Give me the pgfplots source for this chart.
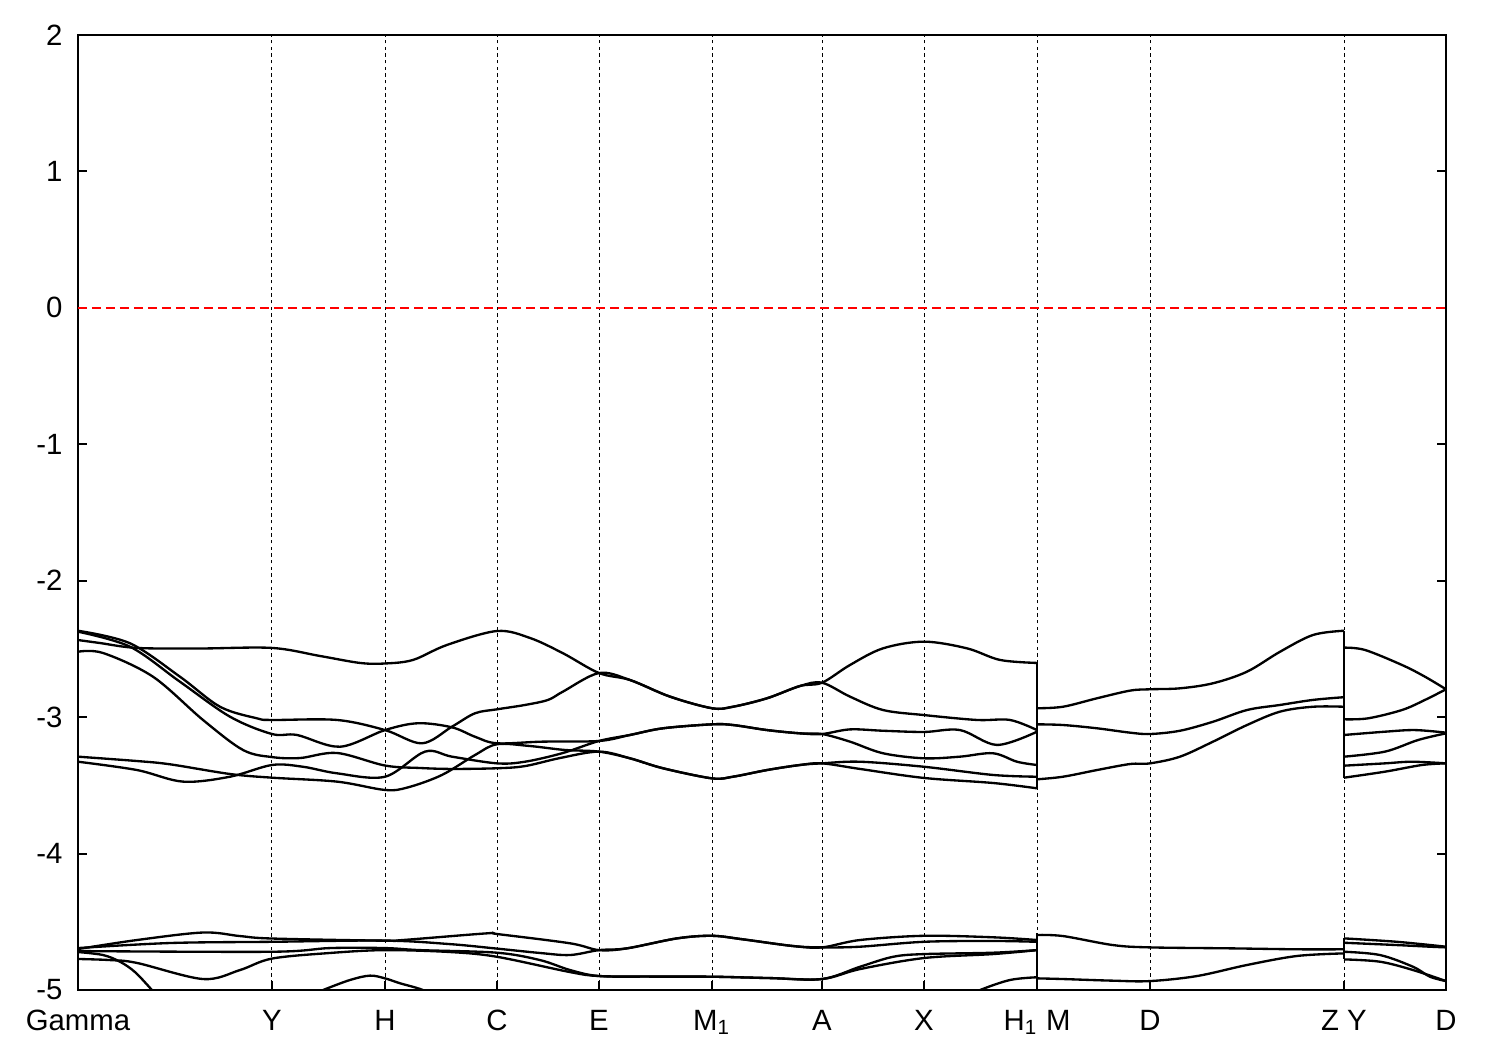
\documentclass[border=0pt]{standalone}
\usepackage{fontspec}
\setmainfont{Liberation Sans}
\usepackage{pgfplots}
\pgfplotsset{compat=1.18}
\begin{document}
\fontsize{8.8}{10}\selectfont
\begin{tikzpicture}
\begin{axis}[
  scale only axis, width=410.4pt, height=286.5pt,
  xmin=0, xmax=1368, ymin=-5, ymax=2,
  xtick={0,194,307,419,521,634,744,846,959,1072,1266,1368},
  xticklabels={Gamma,Y,H,C,E,M\textsubscript{1},A,X,H\textsubscript{1} M,D,Z Y,D},
  ytick={-5,-4,-3,-2,-1,0,1,2},
  yticklabels={-5,-4,-3,-2,-1,0,1,2},
  xtick pos=lower, ytick pos=both, tick align=inside,
  major tick length=2.7pt,
  axis line style={line width=0.6pt},
  every tick/.style={black, line width=0.6pt},
  xmajorgrids, grid style={black, line width=0.3pt, dash pattern=on 1pt off 1pt},
  tick label style={font=\fontsize{8.8}{10}\selectfont},
  xticklabel style={yshift=-3pt},
  yticklabel style={xshift=-1.5pt},
  band/.style={black, line width=0.7pt, smooth, tension=0.55},
  jump/.style={black, line width=0.7pt},
]
% ---------- upper group, Gamma -> H1 ----------
\addplot[band] coordinates {(0,-2.435) (22,-2.457) (59,-2.493) (122,-2.497) (194,-2.493) (242,-2.552) (282,-2.603) (307,-2.607) (335,-2.581) (369,-2.471) (419,-2.369) (452,-2.420) (485,-2.532) (521,-2.677) (552,-2.728) (592,-2.850) (634,-2.935) (655,-2.924) (689,-2.862) (722,-2.772) (744,-2.748) (772,-2.618) (805,-2.496) (846,-2.447) (889,-2.496) (922,-2.581) (959,-2.603)};
\addplot[band] coordinates {(0,-2.367) (52,-2.459) (102,-2.704) (142,-2.924) (179,-3.009) (194,-3.021) (259,-3.021) (307,-3.095) (344,-3.192) (374,-3.070) (397,-2.972) (419,-2.943) (447,-2.911) (470,-2.874) (485,-2.813) (521,-2.677) (552,-2.728) (592,-2.850) (634,-2.935) (655,-2.924) (689,-2.862) (722,-2.772) (744,-2.748) (772,-2.850) (805,-2.948) (846,-2.985) (899,-3.021) (932,-3.021) (959,-3.095)};
\addplot[band] coordinates {(0,-2.374) (52,-2.484) (102,-2.741) (152,-2.997) (194,-3.124) (219,-3.131) (262,-3.217) (307,-3.095) (340,-3.045) (374,-3.075) (397,-3.144) (419,-3.192) (464,-3.180) (521,-3.175) (552,-3.131) (585,-3.082) (634,-3.053) (655,-3.058) (689,-3.095) (722,-3.119) (744,-3.124) (772,-3.090) (805,-3.100) (846,-3.109) (882,-3.095) (919,-3.204) (959,-3.107)};
\addplot[band] coordinates {(0,-2.521) (25,-2.530) (75,-2.704) (125,-3.021) (165,-3.241) (194,-3.293) (222,-3.300) (259,-3.263) (307,-3.355) (342,-3.373) (374,-3.380) (419,-3.375) (447,-3.359) (482,-3.300) (521,-3.253) (552,-3.302) (585,-3.375) (634,-3.449) (655,-3.437) (689,-3.388) (722,-3.351) (744,-3.339) (782,-3.380) (846,-3.446) (915,-3.483) (959,-3.522)};
\addplot[band] coordinates {(0,-3.290) (59,-3.322) (92,-3.346) (152,-3.417) (194,-3.444) (259,-3.473) (307,-3.534) (330,-3.515) (364,-3.424) (397,-3.278) (419,-3.199) (452,-3.212) (487,-3.241) (521,-3.253) (552,-3.302) (585,-3.375) (634,-3.449) (655,-3.437) (689,-3.388) (722,-3.351) (744,-3.339) (782,-3.327) (846,-3.364) (915,-3.424) (959,-3.437)};
\addplot[band] coordinates {(0,-3.327) (59,-3.388) (105,-3.473) (152,-3.437) (194,-3.351) (225,-3.364) (259,-3.412) (307,-3.437) (347,-3.253) (374,-3.290) (419,-3.339) (447,-3.327) (484,-3.265) (521,-3.175) (552,-3.131) (585,-3.082) (634,-3.053) (655,-3.058) (689,-3.095) (722,-3.119) (744,-3.124) (772,-3.180) (805,-3.265) (846,-3.302) (882,-3.290) (915,-3.265) (939,-3.327) (959,-3.351)};
% ---------- upper group, M -> Z ----------
\addplot[band] coordinates {(959,-2.935) (985,-2.924) (1019,-2.862) (1052,-2.806) (1072,-2.796) (1102,-2.789) (1135,-2.752) (1169,-2.667) (1202,-2.521) (1235,-2.398) (1266,-2.367)};
\addplot[band] coordinates {(959,-3.053) (985,-3.058) (1019,-3.082) (1052,-3.114) (1072,-3.124) (1102,-3.100) (1135,-3.034) (1169,-2.948) (1202,-2.911) (1235,-2.874) (1266,-2.854)};
\addplot[band] coordinates {(959,-3.456) (985,-3.437) (1019,-3.388) (1052,-3.344) (1072,-3.339) (1102,-3.290) (1135,-3.180) (1169,-3.058) (1202,-2.960) (1235,-2.924) (1266,-2.924)};
% ---------- upper group, Y -> D ----------
\addplot[band] coordinates {(1266,-2.491) (1287,-2.508) (1324,-2.618) (1347,-2.704) (1368,-2.796)};
\addplot[band] coordinates {(1266,-3.016) (1290,-3.009) (1324,-2.948) (1347,-2.874) (1368,-2.796)};
\addplot[band] coordinates {(1266,-3.131) (1307,-3.107) (1337,-3.095) (1368,-3.114)};
\addplot[band] coordinates {(1266,-3.290) (1307,-3.253) (1340,-3.168) (1368,-3.119)};
\addplot[band] coordinates {(1266,-3.356) (1307,-3.339) (1334,-3.327) (1368,-3.339)};
\addplot[band] coordinates {(1266,-3.444) (1307,-3.400) (1344,-3.351) (1368,-3.339)};
% jumps
\addplot[jump] coordinates {(959,-2.603) (959,-3.522)};
\addplot[jump] coordinates {(1266,-2.367) (1266,-3.444)};
\addplot[jump] coordinates {(959,-4.585) (959,-5.1)};
\addplot[jump] coordinates {(1266,-4.622) (1266,-4.776)};
% ---------- lower group, Gamma -> H1 ----------
\addplot[band] coordinates {(0,-4.700) (59,-4.634) (125,-4.579) (162,-4.605) (194,-4.623) (307,-4.639) (325,-4.634) (409,-4.585) (419,-4.590) (492,-4.658) (521,-4.708) (549,-4.695) (599,-4.622) (634,-4.603) (665,-4.629) (715,-4.678) (744,-4.688) (782,-4.634) (846,-4.603) (915,-4.614) (959,-4.634)};
\addplot[band] coordinates {(0,-4.693) (92,-4.656) (194,-4.647) (307,-4.638) (372,-4.664) (419,-4.697) (462,-4.729) (492,-4.744) (521,-4.708) (549,-4.695) (599,-4.622) (634,-4.603) (665,-4.629) (715,-4.678) (744,-4.688) (782,-4.683) (846,-4.647) (915,-4.641) (959,-4.647)};
\addplot[band] coordinates {(0,-4.715) (194,-4.720) (252,-4.693) (307,-4.693) (342,-4.708) (419,-4.727) (462,-4.781) (492,-4.854) (521,-4.898) (572,-4.902) (634,-4.903) (692,-4.913) (744,-4.920) (782,-4.830) (815,-4.757) (846,-4.737) (915,-4.727) (959,-4.708)};
\addplot[band] coordinates {(0,-4.773) (32,-4.781) (59,-4.802) (125,-4.920) (162,-4.854) (194,-4.770) (252,-4.729) (307,-4.708) (372,-4.722) (419,-4.757) (492,-4.869) (521,-4.898) (572,-4.902) (634,-4.903) (692,-4.913) (744,-4.920) (782,-4.847) (846,-4.766) (915,-4.737) (959,-4.708)};
\addplot[band] coordinates {(0,-4.722) (25,-4.744) (42,-4.793) (57,-4.869) (74,-5.001) (87,-5.111)};
\addplot[band] coordinates {(222,-5.074) (245,-5.001) (272,-4.927) (292,-4.895) (307,-4.915) (322,-4.951) (345,-5.001) (362,-5.074)};
\addplot[band] coordinates {(882,-5.074) (902,-5.001) (932,-4.927) (959,-4.907)};
% ---------- lower group, M -> Z ----------
\addplot[band] coordinates {(959,-4.597) (985,-4.605) (1035,-4.671) (1072,-4.688) (1152,-4.695) (1219,-4.702) (1266,-4.702)};
\addplot[band] coordinates {(959,-4.915) (985,-4.920) (1035,-4.932) (1072,-4.935) (1119,-4.898) (1169,-4.817) (1219,-4.751) (1266,-4.732)};
% ---------- lower group, Y -> D ----------
\addplot[band] coordinates {(1266,-4.622) (1319,-4.647) (1368,-4.683)};
\addplot[band] coordinates {(1266,-4.654) (1319,-4.671) (1352,-4.683) (1368,-4.688)};
\addplot[band] coordinates {(1266,-4.720) (1302,-4.744) (1335,-4.830) (1352,-4.903) (1368,-4.935)};
\addplot[band] coordinates {(1266,-4.776) (1302,-4.793) (1335,-4.854) (1368,-4.935)};
% Fermi level
\addplot[color=red, line width=0.6pt, dash pattern=on 2.7pt off 1.5pt] coordinates {(0,0) (1368,0)};
\end{axis}
\pgfresetboundingbox
\path[use as bounding box] ([xshift=-23.4pt,yshift=-18pt]current axis.south west) rectangle ([xshift=16.2pt,yshift=10.5pt]current axis.north east);
\end{tikzpicture}
\end{document}
